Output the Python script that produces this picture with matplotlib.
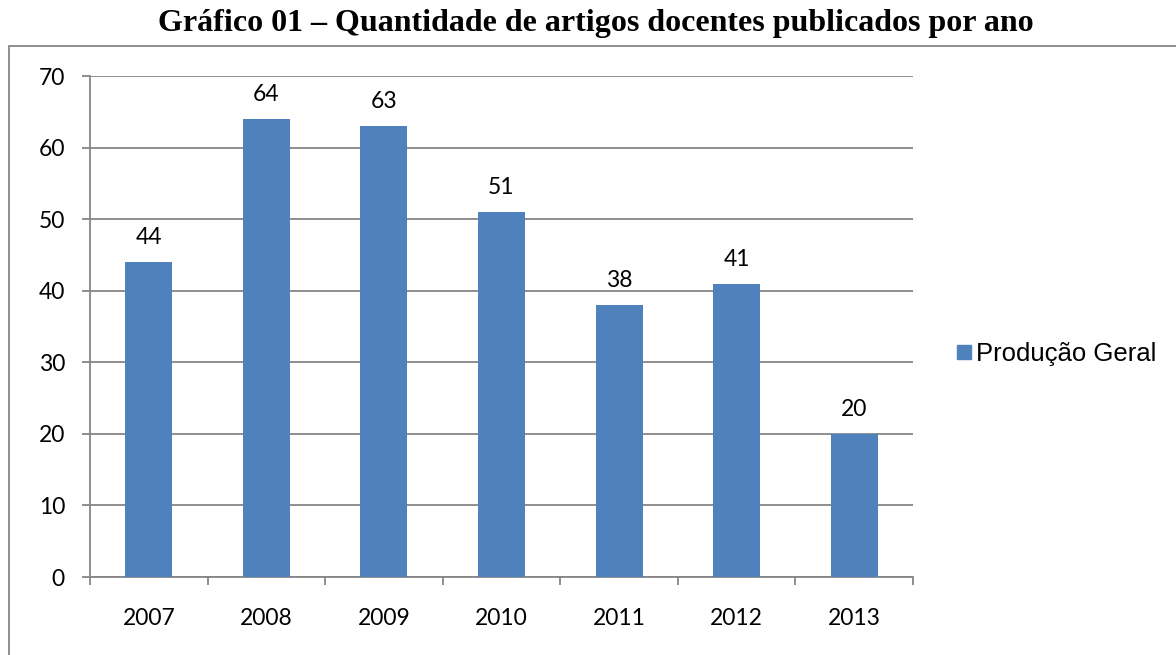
import matplotlib
matplotlib.use("Agg")
import matplotlib.pyplot as plt
from matplotlib.patches import Rectangle
from matplotlib.lines import Line2D

years = ["2007", "2008", "2009", "2010", "2011", "2012", "2013"]
values = [44, 64, 63, 51, 38, 41, 20]
series_name = "Produção Geral"
title = "Gráfico 01 – Quantidade de artigos docentes publicados por ano"

bar_color = "#4F81BD"
grid_color = "#868686"

fig = plt.figure(figsize=(11.76, 6.55), dpi=100)
W, H = 1176, 655

# outer chart border
fig.add_artist(Rectangle((9 / W, -0.05), 1.2, 1 - 46 / H + 0.05, transform=fig.transFigure,
                         fill=False, edgecolor=grid_color, linewidth=1.3))

fig.text(596 / W, 1 - 23 / H, title, ha="center", va="center",
         fontsize=23, fontweight="bold", family="Liberation Serif")

ax = fig.add_axes([90 / W, 1 - 577 / H, (913 - 90) / W, (577 - 76) / H])
x = list(range(len(years)))
bars = ax.bar(x, values, width=0.4, color=bar_color, zorder=3)
ax.set_xlim(-0.5, len(years) - 0.5)
ax.set_ylim(0, 70)
ax.set_yticks(range(0, 71, 10))
ax.yaxis.grid(True, color=grid_color, linewidth=1.3, zorder=0)
ax.set_xticks(x)
ax.set_xticklabels(years)
ax.set_xticks([i - 0.5 for i in range(len(years) + 1)], minor=True)
for s in ["top", "right"]:
    ax.spines[s].set_visible(False)
for s in ["left", "bottom"]:
    ax.spines[s].set_color(grid_color)
    ax.spines[s].set_linewidth(1.3)
ax.tick_params(axis="x", which="major", length=0, pad=22)
ax.tick_params(axis="x", which="minor", length=6, color=grid_color, width=1.3)
ax.tick_params(axis="y", length=6, color=grid_color, width=1.3, pad=12)
for lab in ax.get_xticklabels() + ax.get_yticklabels():
    lab.set_family("Lato")
    lab.set_fontsize(16.5)

for xi, v in zip(x, values):
    ax.annotate(str(v), (xi, v), xytext=(0, 10), textcoords="offset points",
                ha="center", va="bottom", fontsize=16.5, family="Lato")

handle = Line2D([], [], marker="s", linestyle="none", markersize=10,
                markerfacecolor=bar_color, markeredgecolor=bar_color)
fig.legend([handle], [series_name], loc="center left",
           bbox_to_anchor=(943 / W, 1 - 354 / H), frameon=False,
           prop={"family": "Liberation Sans", "size": 18.5},
           handlelength=0.6, handletextpad=0.2, borderpad=0)

fig.savefig("out.png", dpi=100)
